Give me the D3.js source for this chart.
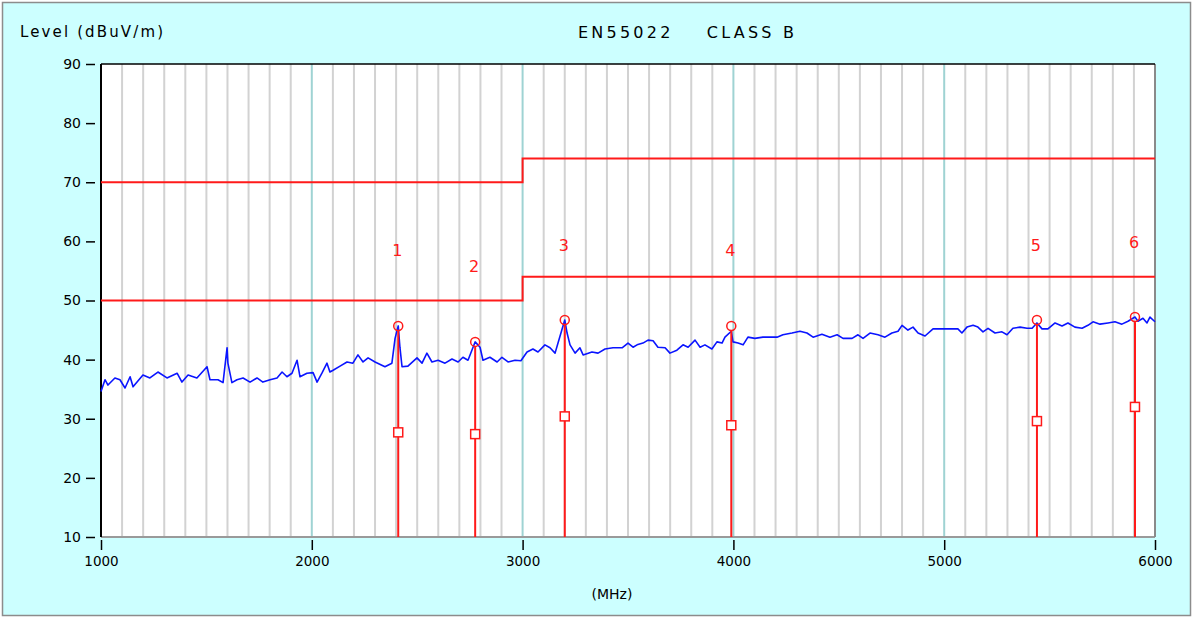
<!DOCTYPE html>
<html>
<head>
<meta charset="utf-8">
<script src="https://cdn.jsdelivr.net/npm/d3@7"></script>
<style>
  html, body { margin: 0; padding: 0; background: #ffffff; }
  svg text { font-family: "DejaVu Sans", "Liberation Sans", Arial, sans-serif; }
</style>
</head>
<body>
<div id="chart"></div>
<script>

// ---- Data ------------------------------------------------------------------
const yTicks = [10, 20, 30, 40, 50, 60, 70, 80, 90];
const xTicks = [1000, 2000, 3000, 4000, 5000, 6000];

// limit lines (step at 3 GHz)
const limitFreq = [1000, 3000, 3000, 6000];
const limitQP   = [70, 70, 74, 74];
const limitAV   = [50, 50, 54, 54];

// markers: number, frequency (MHz), peak level, average level (dBuV/m)
const markerNo   = [1, 2, 3, 4, 5, 6];
const markerFreq = [2410, 2775, 3200, 3990, 5440, 5905];
const markerPeak = [45.7, 43.0, 46.7, 45.7, 46.7, 47.2];
const markerAvg  = [27.7, 27.4, 30.4, 28.9, 29.6, 32.0];

// measured trace
const traceFreq = [
  1000, 1019, 1033, 1066, 1090, 1114, 1138, 1152, 1199, 1232, 1270, 1313, 1361, 1384, 1413, 1455,
  1503, 1517, 1555, 1579, 1598, 1602, 1621, 1645, 1674, 1707, 1740, 1768, 1802, 1835, 1859, 1882,
  1906, 1930, 1944, 1977, 2006, 2025, 2048, 2072, 2086, 2101, 2134, 2167, 2195, 2219, 2243, 2267,
  2300, 2347, 2380, 2395, 2410, 2418, 2428, 2456, 2499, 2523, 2546, 2570, 2599, 2632, 2665, 2694,
  2717, 2741, 2765, 2775, 2798, 2812, 2845, 2879, 2902, 2931, 2964, 2992, 3021, 3049, 3073, 3106,
  3130, 3154, 3168, 3200, 3211, 3225, 3249, 3272, 3287, 3329, 3358, 3391, 3429, 3472, 3500, 3524,
  3543, 3571, 3595, 3619, 3642, 3676, 3699, 3732, 3761, 3785, 3818, 3842, 3865, 3898, 3922, 3946,
  3960, 3990, 3998, 4022, 4046, 4069, 4102, 4140, 4207, 4235, 4278, 4316, 4349, 4378, 4420, 4458,
  4492, 4520, 4563, 4591, 4615, 4648, 4686, 4719, 4752, 4781, 4800, 4828, 4852, 4876, 4909, 4947,
  5065, 5084, 5108, 5137, 5160, 5184, 5208, 5241, 5274, 5298, 5326, 5360, 5393, 5417, 5440, 5464,
  5492, 5526, 5559, 5587, 5620, 5654, 5682, 5706, 5739, 5777, 5810, 5843, 5872, 5905, 5919, 5943,
  5962, 5976, 6000
];
const traceLevel = [
  34.6, 36.6, 35.7, 36.9, 36.6, 35.2, 37.1, 35.4, 37.4, 36.9, 37.9, 36.9, 37.7, 36.2, 37.4, 36.9,
  38.8, 36.6, 36.6, 36.1, 42.0, 39.4, 36.1, 36.6, 36.9, 36.2, 36.9, 36.2, 36.6, 36.9, 37.9, 37.1,
  37.7, 39.9, 37.1, 37.7, 37.8, 36.2, 37.7, 39.4, 37.9, 38.2, 38.9, 39.6, 39.4, 40.8, 39.6, 40.3,
  39.6, 38.8, 39.4, 43.6, 45.7, 42.1, 38.8, 38.9, 40.3, 39.4, 41.1, 39.6, 39.9, 39.4, 40.1, 39.6,
  40.4, 39.9, 42.1, 43.0, 42.1, 39.9, 40.4, 39.6, 40.4, 39.6, 39.9, 39.8, 41.3, 41.8, 41.3, 42.5,
  42.0, 41.1, 42.8, 46.7, 44.5, 42.5, 41.1, 42.0, 40.8, 41.3, 41.1, 41.8, 42.0, 42.0, 42.8, 42.1,
  42.5, 42.8, 43.3, 43.2, 42.1, 42.0, 41.1, 41.6, 42.5, 42.1, 43.3, 42.1, 42.5, 41.8, 43.0, 42.8,
  43.8, 44.8, 43.0, 42.8, 42.5, 43.8, 43.6, 43.8, 43.8, 44.2, 44.5, 44.8, 44.5, 43.8, 44.3, 43.8,
  44.2, 43.6, 43.6, 44.2, 43.6, 44.5, 44.2, 43.8, 44.5, 44.8, 45.8, 45.0, 45.5, 44.5, 44.0, 45.2,
  45.2, 44.5, 45.5, 45.8, 45.5, 44.7, 45.3, 44.5, 44.7, 44.2, 45.3, 45.5, 45.3, 45.3, 46.2, 45.2,
  45.2, 46.2, 45.7, 46.2, 45.5, 45.3, 45.8, 46.4, 46.0, 46.2, 46.4, 46.0, 46.5, 47.2, 46.5, 47.0,
  46.2, 47.2, 46.4
];

const chartTitle = "EN55022    CLASS B";
const yLabel = "Level (dBuV/m)";
const xLabel = "(MHz)";

// ---- Drawing ----------------------------------------------------------------
class EmcChart {

  constructor(parentElement) {
    this.parentElement = parentElement;
    this.initVis();
  }

  initVis() {
    let vis = this;

    vis.W = 1193;
    vis.H = 618;
    vis.margin = { top: 64, right: 38, bottom: 81, left: 101 };
    vis.width = vis.W - vis.margin.left - vis.margin.right;
    vis.height = vis.H - vis.margin.top - vis.margin.bottom;

    vis.root = d3.select("#" + vis.parentElement)
      .append("svg")
      .attr("width", vis.W)
      .attr("height", vis.H);

    // background panel
    vis.root.append("rect")
      .attr("x", 2.5).attr("y", 2.5)
      .attr("width", vis.W - 5).attr("height", vis.H - 5)
      .attr("fill", "#ccffff")
      .attr("stroke", "#8c8c8c")
      .attr("stroke-width", 1.5);

    vis.svg = vis.root.append("g")
      .attr("transform", "translate(" + vis.margin.left + "," + vis.margin.top + ")");

    vis.x = d3.scaleLinear().domain([1000, 6000]).range([0, vis.width]);
    vis.y = d3.scaleLinear().domain([10, 90]).range([vis.height, 0]);

    vis.svg.append("rect")
      .attr("width", vis.width)
      .attr("height", vis.height)
      .attr("fill", "#ffffff");

    vis.updateVis();
  }

  updateVis() {
    let vis = this;

    // vertical grid every 100 MHz, teal at the GHz marks
    let grid = d3.range(1100, 6000, 100);
    vis.svg.append("g").selectAll("line")
      .data(grid)
      .enter()
      .append("line")
      .attr("x1", d => vis.x(d))
      .attr("x2", d => vis.x(d))
      .attr("y1", 0)
      .attr("y2", vis.height)
      .attr("stroke", d => d % 1000 === 0 ? "#9fd3d3" : "#d2d2d2")
      .attr("stroke-width", 2);

    // frame
    vis.svg.append("line")
      .attr("x1", 0).attr("x2", vis.width).attr("y1", vis.height).attr("y2", vis.height)
      .attr("stroke", "#9a9a9a").attr("stroke-width", 2);
    vis.svg.append("line")
      .attr("x1", vis.width).attr("x2", vis.width).attr("y1", 0).attr("y2", vis.height)
      .attr("stroke", "#8a8a8a").attr("stroke-width", 2);
    vis.svg.append("line")
      .attr("x1", 0).attr("x2", vis.width).attr("y1", 0).attr("y2", 0)
      .attr("stroke", "#000").attr("stroke-width", 1.5);
    vis.svg.append("line")
      .attr("x1", 0).attr("x2", 0).attr("y1", 0).attr("y2", vis.height)
      .attr("stroke", "#000").attr("stroke-width", 2);

    // y axis
    let yAxis = d3.axisLeft(vis.y)
      .tickValues(yTicks)
      .tickSize(9)
      .tickPadding(5);
    let gy = vis.svg.append("g")
      .attr("transform", "translate(-6,0)")
      .call(yAxis);
    gy.select(".domain").remove();
    gy.selectAll(".tick line").attr("stroke", "#000").attr("stroke-width", 1.5);
    gy.selectAll(".tick text")
      .attr("font-size", 14)
      .attr("fill", "#000");

    // x axis
    let xAxis = d3.axisBottom(vis.x)
      .tickValues(xTicks)
      .tickFormat(d3.format("d"))
      .tickSize(10)
      .tickPadding(6);
    let gx = vis.svg.append("g")
      .attr("transform", "translate(0," + (vis.height + 3) + ")")
      .call(xAxis);
    gx.select(".domain").remove();
    gx.selectAll(".tick line").attr("stroke", "#000").attr("stroke-width", 1.5);
    gx.selectAll(".tick text")
      .attr("font-size", 13.5)
      .attr("fill", "#000");

    // limit lines
    let limitLine = d3.line()
      .x((d, i) => vis.x(limitFreq[i]))
      .y(d => vis.y(d));
    [limitQP, limitAV].forEach(lim => {
      vis.svg.append("path")
        .attr("d", limitLine(lim))
        .attr("fill", "none")
        .attr("stroke", "#ff1a1a")
        .attr("stroke-width", 2);
    });

    // trace
    let traceLine = d3.line()
      .x((d, i) => vis.x(traceFreq[i]))
      .y(d => vis.y(d));
    vis.svg.append("path")
      .attr("d", traceLine(traceLevel))
      .attr("fill", "none")
      .attr("stroke", "#0a14ff")
      .attr("stroke-width", 1.6)
      .attr("stroke-linejoin", "round");

    // markers
    let markers = markerNo.map((n, i) => ({
      n: n, f: markerFreq[i], pk: markerPeak[i], av: markerAvg[i]
    }));

    let mg = vis.svg.append("g").selectAll("g")
      .data(markers)
      .enter()
      .append("g");

    mg.append("line")
      .attr("x1", d => vis.x(d.f))
      .attr("x2", d => vis.x(d.f))
      .attr("y1", d => vis.y(d.pk) + 5)
      .attr("y2", vis.height)
      .attr("stroke", "#ff1a1a")
      .attr("stroke-width", 2);

    mg.append("circle")
      .attr("cx", d => vis.x(d.f))
      .attr("cy", d => vis.y(d.pk))
      .attr("r", 4.5)
      .attr("fill", "none")
      .attr("stroke", "#ff1a1a")
      .attr("stroke-width", 1.5);

    mg.append("rect")
      .attr("x", d => vis.x(d.f) - 4.5)
      .attr("y", d => vis.y(d.av) - 4.5)
      .attr("width", 9)
      .attr("height", 9)
      .attr("fill", "#ffffff")
      .attr("stroke", "#ff1a1a")
      .attr("stroke-width", 1.5);

    mg.append("text")
      .attr("x", d => vis.x(d.f) - 1)
      .attr("y", d => vis.y(d.pk + 12.7))
      .attr("dy", "0.35em")
      .attr("text-anchor", "middle")
      .attr("font-size", 16)
      .attr("fill", "#ff1a1a")
      .text(d => d.n);

    // titles
    vis.root.append("text")
      .attr("x", 20)
      .attr("y", 37)
      .attr("font-size", 15)
      .attr("textLength", 143)
      .attr("lengthAdjust", "spacing")
      .attr("fill", "#000")
      .text(yLabel);

    vis.root.append("text")
      .attr("x", 578)
      .attr("y", 38)
      .attr("font-size", 16)
      .attr("textLength", 216)
      .attr("lengthAdjust", "spacing")
      .style("white-space", "pre")
      .attr("fill", "#000")
      .text(chartTitle);

    vis.root.append("text")
      .attr("x", 612)
      .attr("y", 599)
      .attr("text-anchor", "middle")
      .attr("font-size", 14)
      .attr("fill", "#000")
      .text(xLabel);
  }
}

new EmcChart("chart");
</script>
</body>
</html>
